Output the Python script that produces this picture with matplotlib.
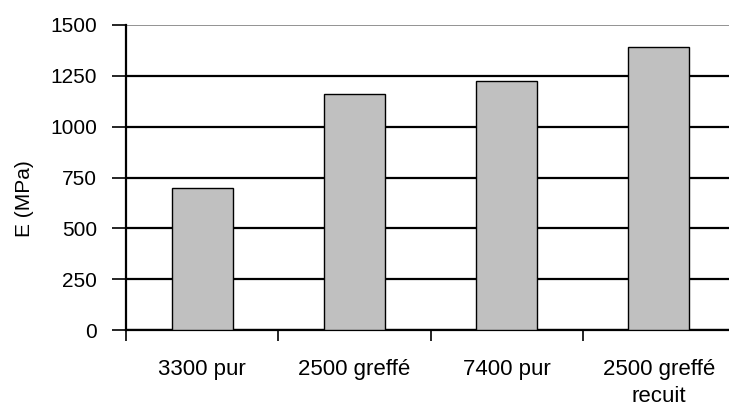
import matplotlib
matplotlib.use("Agg")
import matplotlib.pyplot as plt
import numpy as np

plt.rcParams['font.family'] = ['Liberation Sans', 'DejaVu Sans']

categories = ['3300 pur', '2500 greffé', '7400 pur', '2500 greffé\nrecuit']
values = [700, 1160, 1225, 1390]
yticks = [0, 250, 500, 750, 1000, 1250, 1500]

W, H = 729, 407
fig = plt.figure(figsize=(W / 100, H / 100), dpi=100)
# axes runs a bit past the right edge like in the original
ax = fig.add_axes([126 / W, 1 - 330 / H, 609 / W, 305 / H])

x = np.arange(len(categories))
ax.bar(x, values, width=0.4, color='#c0c0c0', edgecolor='black', linewidth=1, zorder=3)

for v in yticks[:-1]:
    ax.axhline(v, color='black', linewidth=1.6, zorder=1)
ax.axhline(yticks[-1], color='#808080', linewidth=1.2, zorder=1)

ax.set_xlim(-0.5, len(categories) - 0.5)
ax.set_ylim(0, 1500)
ax.set_yticks(yticks)
ax.set_yticklabels([str(v) for v in yticks], fontsize=15)
ax.tick_params(axis='y', length=10, width=1.2, pad=11, direction='out')

ax.set_xticks(x)
ax.set_xticklabels(categories, fontsize=16, va='top', linespacing=1.35)
ax.tick_params(axis='x', which='major', length=0, pad=21)
ax.set_xticks(np.arange(len(categories) + 1) - 0.5, minor=True)
ax.tick_params(axis='x', which='minor', length=8, width=1.2, direction='out')

ax.set_ylabel('E (MPa)', fontsize=15)
ax.yaxis.set_label_coords(-0.151, 0.43)

for s in ['top', 'right']:
    ax.spines[s].set_visible(False)
ax.spines['left'].set_linewidth(1.6)
ax.spines['bottom'].set_linewidth(1.6)
ax.spines['left'].set_zorder(4)

fig.savefig('out.png', dpi=100)
